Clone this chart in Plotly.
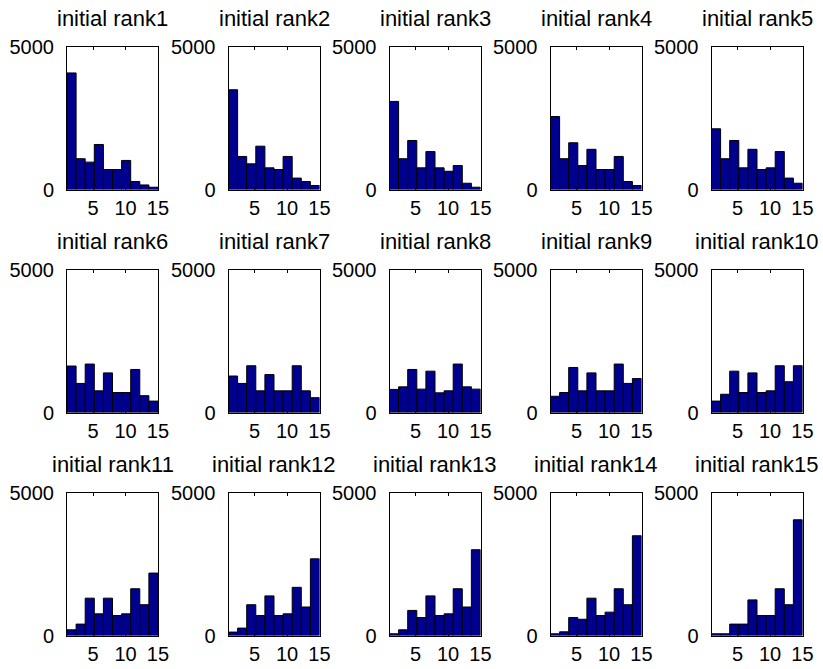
import numpy as np
import plotly.graph_objects as go

# Histogram bin layout (10 bins spanning ranks 1..15, as MATLAB hist does)
bin_edges = np.linspace(1, 15, 11)
bin_centers = (bin_edges[:-1] + bin_edges[1:]) / 2
bin_width = bin_edges[1] - bin_edges[0]

titles = [f"initial rank{i}" for i in range(1, 16)]

rank1 = [4090, 1080, 960, 1580, 700, 700, 1020, 280, 160, 80]
rank2 = [3500, 1160, 900, 1520, 760, 700, 1160, 400, 280, 140]
rank3 = [3090, 1080, 1720, 760, 1330, 760, 640, 840, 220, 80]
rank4 = [2560, 1080, 1640, 840, 1410, 700, 700, 1160, 280, 140]
rank5 = [2130, 1080, 1720, 760, 1410, 700, 760, 1330, 400, 220]
rank6 = [1630, 1020, 1700, 760, 1390, 700, 700, 1510, 590, 400]
rank7 = [1280, 1020, 1640, 760, 1330, 760, 760, 1640, 760, 520]
rank8 = [810, 900, 1510, 820, 1450, 690, 760, 1700, 900, 820]
rank9 = [570, 700, 1580, 760, 1390, 760, 760, 1700, 1020, 1190]
rank10 = [400, 640, 1450, 700, 1390, 700, 760, 1640, 1080, 1640]
rank11 = [200, 400, 1310, 760, 1310, 700, 760, 1640, 1080, 2190]
rank12 = [120, 260, 1080, 700, 1390, 700, 760, 1690, 1000, 2690]
rank13 = [60, 200, 880, 630, 1390, 700, 760, 1640, 1000, 3010]
rank14 = [60, 130, 630, 570, 1310, 700, 820, 1640, 1080, 3500]
rank15 = [60, 60, 400, 400, 1250, 700, 700, 1640, 1080, 4060]

series = [rank1, rank2, rank3, rank4, rank5, rank6, rank7, rank8, rank9, rank10,
          rank11, rank12, rank13, rank14, rank15]

x_ticks = [5, 10, 15]
y_ticks = [0, 5000]

W, H = 823, 669
col_left = [67, 228.5, 389.5, 550.5, 711.5]
ax_w = 91
row_top = [47, 270, 493]
ax_h = 142.5

FONT = "Liberation Sans, Arial, Helvetica, sans-serif"
FS_TICK = 20
FS_TITLE = 22

fig = go.Figure()
annotations = []
layout_axes = {}
for i, vals in enumerate(series):
    r, c = divmod(i, 5)
    n = i + 1
    xa = "x" if n == 1 else f"x{n}"
    ya = "y" if n == 1 else f"y{n}"
    fig.add_trace(go.Bar(
        x=bin_centers, y=vals, width=bin_width,
        marker=dict(color="#00008F", line=dict(color="black", width=1)),
        xaxis=xa, yaxis=ya, showlegend=False, hoverinfo="x+y",
    ))
    x0 = col_left[c] / W
    x1 = (col_left[c] + ax_w) / W
    y1 = 1 - row_top[r] / H
    y0 = 1 - (row_top[r] + ax_h) / H
    common = dict(showgrid=False, zeroline=False, showline=True, linecolor="black",
                  linewidth=1, mirror="allticks", ticks="inside", ticklen=3,
                  tickcolor="black", automargin=False,
                  tickfont=dict(family=FONT, size=FS_TICK, color="black"))
    layout_axes[f"xaxis{'' if n == 1 else n}"] = dict(
        domain=[x0, x1], range=[1, 15.001], tickvals=x_ticks,
        anchor=ya, fixedrange=True, **common)
    layout_axes[f"yaxis{'' if n == 1 else n}"] = dict(
        domain=[y0, y1], range=[0, 5000], tickvals=y_ticks,
        anchor=xa, fixedrange=True, ticklabelstandoff=8, **common)
    annotations.append(dict(
        text=titles[i], x=(x0 + x1) / 2, y=y1, xref="paper", yref="paper",
        xanchor="center", yanchor="bottom", yshift=14, showarrow=False,
        font=dict(family=FONT, size=FS_TITLE, color="black")))

fig.update_layout(
    width=W, height=H, margin=dict(l=0, r=0, t=0, b=0, autoexpand=False),
    paper_bgcolor="white", plot_bgcolor="white",
    annotations=annotations, **layout_axes,
)
fig.write_html(
    "out.html",
    config={"displayModeBar": False},
    post_script="document.body.style.margin='0';document.body.style.overflow='hidden';",
)
